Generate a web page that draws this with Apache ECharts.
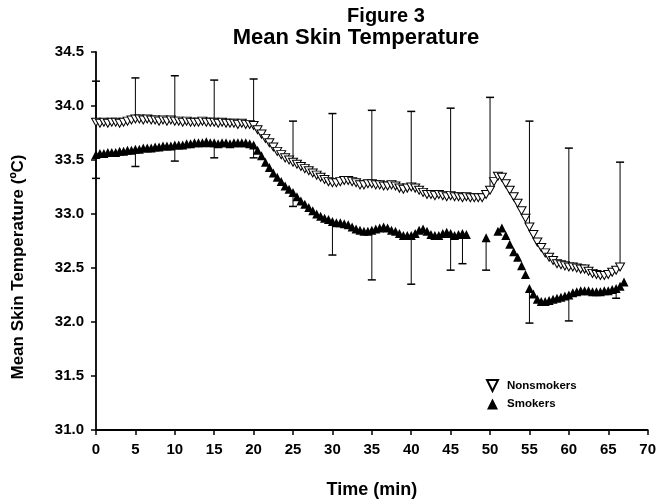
<!DOCTYPE html>
<html>
<head>
<meta charset="utf-8">
<script src="https://cdn.jsdelivr.net/npm/echarts@6/dist/echarts.min.js"></script>
<style>
html,body{margin:0;padding:0;background:#fff;}
#chart{width:659px;height:504px;}
</style>
</head>
<body>
<div id="chart"></div>
<script>
// Time grid (min), every 0.5 min from 0 to 67
const times = [];
for (let i = 0; i <= 134; i++) times.push(i / 2);

const nonsmokers = [
  33.85,33.84,33.85,33.84,33.85,33.85,33.84,33.85,33.86,33.87,
  33.88,33.88,33.87,33.88,33.87,33.87,33.86,33.87,33.86,33.87,
  33.86,33.86,33.85,33.86,33.85,33.85,33.85,33.86,33.85,33.85,
  33.85,33.84,33.85,33.84,33.84,33.84,33.83,33.84,33.83,33.83,
  33.82,
  33.78,33.74,33.70,33.66,33.62,33.58,33.55,33.52,33.50,33.48,
  33.46,33.44,33.42,33.40,33.38,33.36,33.34,33.32,33.30,33.29,
  33.29,33.30,33.31,33.31,33.30,33.29,33.27,33.27,33.28,33.28,
  33.27,33.27,33.26,33.26,33.27,33.26,33.24,33.23,33.24,33.25,
  33.24,33.22,33.20,33.18,33.18,33.17,33.18,33.17,33.16,33.17,
  33.16,33.16,33.15,33.16,33.15,33.15,33.15,33.15,33.18,33.22,
  33.30,33.35,33.34,33.28,33.22,33.16,33.10,33.03,32.96,32.88,
  32.81,32.74,32.69,32.64,32.60,32.57,32.54,32.53,32.52,32.51,
  32.51,32.50,32.49,32.49,32.47,32.45,32.44,32.43,32.43,32.44,
  32.46,32.48,32.51,null
];

const smokers = [
  33.55,33.56,33.56,33.57,33.57,33.57,33.58,33.58,33.59,33.59,
  33.60,33.60,33.61,33.61,33.61,33.62,33.62,33.63,33.63,33.63,
  33.64,33.64,33.64,33.65,33.65,33.66,33.66,33.66,33.67,33.66,
  33.66,33.65,33.66,33.66,33.65,33.66,33.66,33.66,33.66,33.65,
  33.64,
  33.59,33.54,33.48,33.43,33.38,33.34,33.30,33.26,33.23,33.20,
  33.16,33.12,33.09,33.06,33.03,33.00,32.98,32.96,32.95,32.93,
  32.92,32.92,32.91,32.90,32.88,32.86,32.85,32.84,32.84,32.85,
  32.86,32.87,32.88,32.87,32.85,32.84,32.82,32.80,32.80,32.80,
  32.82,32.85,32.86,32.84,32.81,32.80,32.80,32.82,32.83,32.82,
  32.80,32.81,32.82,32.81,null,null,null,null,32.78,null,
  null,32.84,32.87,32.80,32.72,32.65,32.60,32.52,32.44,32.31,
  32.26,32.21,32.19,32.19,32.20,32.21,32.22,32.23,32.24,32.25,
  32.27,32.28,32.29,32.29,32.29,32.28,32.28,32.28,32.29,32.29,
  32.30,32.31,32.33,32.37
];

// Error bars: nonsmokers upward (mean + SD), smokers downward (mean - SD)
const nsErrTimes = [0,5,10,15,20,25,30,35,40,45,50,55,60,66.5];
const nsErrTop   = [34.23,34.26,34.28,34.24,34.25,33.86,33.93,33.96,33.95,33.98,34.08,33.86,33.61,33.48];
const smErrTimes = [0,5,10,15,20,25,30,35,40,45,46.5,49.5,55,60,66];
const smErrBottom= [33.33,33.44,33.49,33.52,33.52,33.07,32.62,32.39,32.35,32.48,32.54,32.48,31.99,32.01,32.22];

const seriesNames = ['Nonsmokers','Smokers'];
const titleLines = ['Figure 3','Mean Skin Temperature'];
const xTitle = 'Time (min)';
const yTitle = 'Mean Skin Temperature (ºC)';

function pairs(vals){
  const out=[];
  times.forEach((t,i)=>{ if(vals[i]!==null && vals[i]!==undefined) out.push([t,vals[i]]); });
  return out;
}
function errData(tArr, endArr, vals){
  return tArr.map((t,i)=>[t, vals[times.indexOf(t)], endArr[i]]);
}
function errRender(params, api){
  const x = api.value(0), base = api.value(1), end = api.value(2);
  const p1 = api.coord([x, base]);
  const p2 = api.coord([x, end]);
  const hw = 4;
  return {
    type:'group',
    children:[
      {type:'line', shape:{x1:p1[0],y1:p1[1],x2:p2[0],y2:p2[1]}, style:{stroke:'#000',lineWidth:1}},
      {type:'line', shape:{x1:p2[0]-hw,y1:p2[1],x2:p2[0]+hw,y2:p2[1]}, style:{stroke:'#000',lineWidth:1.5}}
    ]
  };
}

const downTri = 'path://M0,0L10,0L5,10Z';
const font = 'Liberation Sans, Arial, sans-serif';

const chart = echarts.init(document.getElementById('chart'), null, {renderer:'canvas'});
chart.setOption({
  animation:false,
  backgroundColor:'#fff',
  title:[
    {text:titleLines[0], left:381, top:1, textAlign:'center',
     textStyle:{fontFamily:font,fontWeight:'bold',fontSize:20,color:'#000'}},
    {text:titleLines[1], left:351, top:22, textAlign:'center',
     textStyle:{fontFamily:font,fontWeight:'bold',fontSize:22,color:'#000'}}
  ],
  graphic:[
    {type:'text', x:18, y:267, rotation:Math.PI/2,
     style:{text:yTitle, fontFamily:font, fontWeight:'bold', fontSize:17, fill:'#000',
            textAlign:'center', textVerticalAlign:'middle'}}
  ],
  legend:{
    orient:'vertical', left:481, top:374, itemGap:6, itemWidth:11, itemHeight:11,
    data:[
      {name:seriesNames[0], icon:downTri},
      {name:seriesNames[1], icon:'triangle'}
    ],
    textStyle:{fontFamily:font,fontWeight:'bold',fontSize:11.5,color:'#000',padding:[0,0,0,4]}
  },
  grid:{left:96, right:9, top:52, bottom:68, containLabel:false},
  xAxis:{
    type:'value', min:0, max:70, interval:5,
    name:xTitle, nameLocation:'middle', nameGap:51,
    nameTextStyle:{fontFamily:font,fontWeight:'bold',fontSize:18,color:'#000'},
    axisLine:{lineStyle:{color:'#000',width:1.8}},
    axisTick:{show:true,length:5,lineStyle:{color:'#000',width:1.5}},
    axisLabel:{fontFamily:font,fontWeight:'bold',fontSize:15,color:'#000',margin:12},
    splitLine:{show:false}
  },
  yAxis:{
    type:'value', min:31, max:34.5, interval:0.5,
    axisLine:{show:true,lineStyle:{color:'#000',width:1.8}},
    axisTick:{show:true,length:5,lineStyle:{color:'#000',width:1.5}},
    axisLabel:{fontFamily:font,fontWeight:'bold',fontSize:15,color:'#000',margin:12,
      formatter:v=>v.toFixed(1)},
    splitLine:{show:false}
  },
  series:[
    {type:'custom', name:'nsErr', renderItem:errRender, z:1, silent:true,
     data:errData(nsErrTimes, nsErrTop, nonsmokers)},
    {type:'custom', name:'smErr', renderItem:errRender, z:1, silent:true,
     data:errData(smErrTimes, smErrBottom, smokers)},
    {type:'scatter', name:seriesNames[0], symbol:downTri, symbolSize:[9,8], z:3,
     itemStyle:{color:'#fff',borderColor:'#000',borderWidth:1,opacity:1},
     data:pairs(nonsmokers)},
    {type:'scatter', name:seriesNames[1], symbol:'triangle', symbolSize:[9,9], z:4,
     itemStyle:{color:'#000',opacity:1},
     data:pairs(smokers)}
  ]
});
</script>
</body>
</html>
